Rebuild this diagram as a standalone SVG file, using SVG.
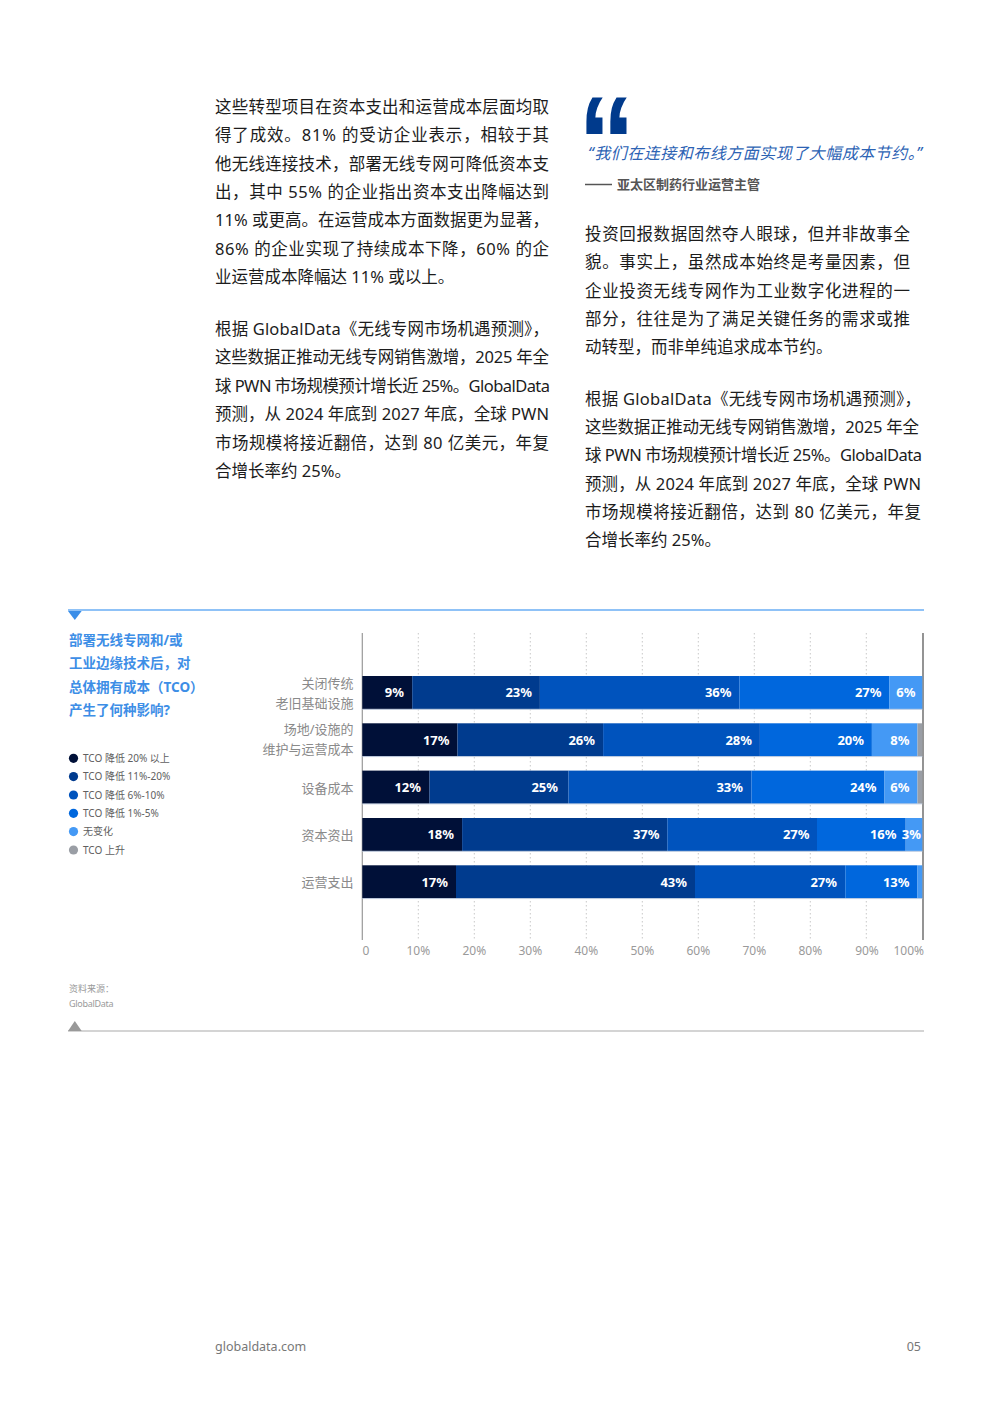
<svg xmlns="http://www.w3.org/2000/svg" width="992" height="1403" viewBox="0 0 992 1403">
<style>
  .body { font-family: "Noto Sans", "Noto Sans CJK SC", sans-serif; font-size: 16.5px; fill: #1c1c1c; }
  .cat { font-family: "Noto Sans", "Noto Sans CJK SC", sans-serif; font-size: 13px; fill: #8a8a8a; text-anchor: end; }
  .ttl { font-family: "Noto Sans", "Noto Sans CJK SC", sans-serif; font-size: 13.5px; font-weight: bold; fill: #3d8ee6; }
  .leg { font-family: "Noto Sans", "Noto Sans CJK SC", sans-serif; font-size: 10px; fill: #606060; }
  .val { font-family: "Noto Sans", "Noto Sans CJK SC", sans-serif; font-size: 13px; font-weight: bold; fill: #ffffff; text-anchor: end; }
  .ax { font-family: "Noto Sans", sans-serif; font-size: 12px; fill: #9a9a9a; text-anchor: middle; }
  .grid { stroke: #c8c8c8; stroke-width: 1; stroke-dasharray: 1.5 2.5; }
  .c1 { fill: #001038; } .c2 { fill: #003b8e; } .c3 { fill: #0053bd; }
  .c4 { fill: #0067dd; } .c5 { fill: #4499f5; } .c6 { fill: #9a9ea5; }
  .edge { stroke: #c4d0e2; stroke-width: 1; }
</style>

<g id="left-text">
  <text class="body" x="215" y="113" textLength="334" lengthAdjust="spacing">这些转型项目在资本支出和运营成本层面均取</text>
  <text class="body" x="215" y="141.3" textLength="334" lengthAdjust="spacing">得了成效。81% 的受访企业表示，相较于其</text>
  <text class="body" x="215" y="169.7" textLength="334" lengthAdjust="spacing">他无线连接技术，部署无线专网可降低资本支</text>
  <text class="body" x="215" y="198" textLength="334" lengthAdjust="spacing">出，其中 55% 的企业指出资本支出降幅达到</text>
  <text class="body" x="215" y="226.3" textLength="334" lengthAdjust="spacing">11% 或更高。在运营成本方面数据更为显著，</text>
  <text class="body" x="215" y="254.7" textLength="334" lengthAdjust="spacing">86% 的企业实现了持续成本下降，60% 的企</text>
  <text class="body" x="215" y="283">业运营成本降幅达 11% 或以上。</text>

  <text class="body" x="215" y="335" textLength="334" lengthAdjust="spacing">根据 GlobalData《无线专网市场机遇预测》，</text>
  <text class="body" x="215" y="363.4" textLength="334" lengthAdjust="spacing">这些数据正推动无线专网销售激增，2025 年全</text>
  <text class="body" x="215" y="391.8" textLength="335" lengthAdjust="spacing">球 PWN 市场规模预计增长近 25%。GlobalData</text>
  <text class="body" x="215" y="420.2" textLength="334" lengthAdjust="spacing">预测，从 2024 年底到 2027 年底，全球 PWN</text>
  <text class="body" x="215" y="448.6" textLength="334" lengthAdjust="spacing">市场规模将接近翻倍，达到 80 亿美元，年复</text>
  <text class="body" x="215" y="477">合增长率约 25%。</text>
</g>

<g id="quote">
  <text x="0" y="0" transform="translate(578,187) scale(0.88,1)" style="font-family: 'Liberation Sans', Arial, sans-serif; font-weight: bold; font-size: 130px; fill: #003a8c;">“</text>
  <text x="588" y="159" textLength="334" lengthAdjust="spacing" style="font-family: 'Noto Sans', 'Noto Sans CJK SC', sans-serif; font-size: 16px; font-style: italic; fill: #2d63b4;">“我们在连接和布线方面实现了大幅成本节约。”</text>
  <line x1="585" y1="184.5" x2="612" y2="184.5" stroke="#555555" stroke-width="1.5"/>
  <text x="617" y="189" style="font-family: 'Noto Sans', 'Noto Sans CJK SC', sans-serif; font-size: 13px; font-weight: bold; fill: #555555;">亚太区制药行业运营主管</text>
</g>

<g id="right-text">
  <text class="body" x="585" y="240" textLength="325" lengthAdjust="spacing">投资回报数据固然夺人眼球，但并非故事全</text>
  <text class="body" x="585" y="268.3" textLength="325" lengthAdjust="spacing">貌。事实上，虽然成本始终是考量因素，但</text>
  <text class="body" x="585" y="296.7" textLength="325" lengthAdjust="spacing">企业投资无线专网作为工业数字化进程的一</text>
  <text class="body" x="585" y="325" textLength="325" lengthAdjust="spacing">部分，往往是为了满足关键任务的需求或推</text>
  <text class="body" x="585" y="353.3">动转型，而非单纯追求成本节约。</text>

  <text class="body" x="585" y="404.5" textLength="336" lengthAdjust="spacing">根据 GlobalData《无线专网市场机遇预测》，</text>
  <text class="body" x="585" y="432.8" textLength="334" lengthAdjust="spacing">这些数据正推动无线专网销售激增，2025 年全</text>
  <text class="body" x="585" y="461.2" textLength="337" lengthAdjust="spacing">球 PWN 市场规模预计增长近 25%。GlobalData</text>
  <text class="body" x="585" y="489.5" textLength="336" lengthAdjust="spacing">预测，从 2024 年底到 2027 年底，全球 PWN</text>
  <text class="body" x="585" y="517.8" textLength="336" lengthAdjust="spacing">市场规模将接近翻倍，达到 80 亿美元，年复</text>
  <text class="body" x="585" y="546.2">合增长率约 25%。</text>
</g>

<g id="chart-frame">
  <line x1="68" y1="610" x2="924" y2="610" stroke="#6aaef5" stroke-width="1.5"/>
  <polygon points="68,611 81.7,611 74.8,620" fill="#3a8ee8"/>
  <line x1="68" y1="1031" x2="924" y2="1031" stroke="#aaaaaa" stroke-width="1.2"/>
  <polygon points="68,1031 81.7,1031 74.8,1021" fill="#999999"/>
</g>

<g id="chart-title">
  <text class="ttl" x="69" y="645">部署无线专网和/或</text>
  <text class="ttl" x="69" y="668.3">工业边缘技术后，对</text>
  <text class="ttl" x="69" y="692">总体拥有成本（TCO）</text>
  <text class="ttl" x="69" y="715">产生了何种影响?</text>
</g>

<g id="legend">
  <circle cx="73.5" cy="758.3" r="4.6" class="c1"/>
  <text class="leg" x="83" y="761.8">TCO 降低 20% 以上</text>
  <circle cx="73.5" cy="776.6" r="4.6" class="c2"/>
  <text class="leg" x="83" y="780.1">TCO 降低 11%-20%</text>
  <circle cx="73.5" cy="795" r="4.6" class="c3"/>
  <text class="leg" x="83" y="798.5">TCO 降低 6%-10%</text>
  <circle cx="73.5" cy="813.3" r="4.6" class="c4"/>
  <text class="leg" x="83" y="816.8">TCO 降低 1%-5%</text>
  <circle cx="73.5" cy="831.6" r="4.6" class="c5"/>
  <text class="leg" x="83" y="835.1">无变化</text>
  <circle cx="73.5" cy="850" r="4.6" class="c6"/>
  <text class="leg" x="83" y="853.5">TCO 上升</text>
</g>

<g id="categories">
  <text class="cat" x="353.5" y="687.5">关闭传统</text>
  <text class="cat" x="353.5" y="707.5">老旧基础设施</text>
  <text class="cat" x="353.5" y="734">场地/设施的</text>
  <text class="cat" x="353.5" y="754">维护与运营成本</text>
  <text class="cat" x="353.5" y="792.5">设备成本</text>
  <text class="cat" x="353.5" y="839.5">资本资出</text>
  <text class="cat" x="353.5" y="886.5">运营支出</text>
</g>

<g id="grid">
  <line class="grid" x1="418.3" y1="633" x2="418.3" y2="940"/>
  <line class="grid" x1="474.3" y1="633" x2="474.3" y2="940"/>
  <line class="grid" x1="530.3" y1="633" x2="530.3" y2="940"/>
  <line class="grid" x1="586.3" y1="633" x2="586.3" y2="940"/>
  <line class="grid" x1="642.3" y1="633" x2="642.3" y2="940"/>
  <line class="grid" x1="698.3" y1="633" x2="698.3" y2="940"/>
  <line class="grid" x1="754.3" y1="633" x2="754.3" y2="940"/>
  <line class="grid" x1="810.3" y1="633" x2="810.3" y2="940"/>
  <line class="grid" x1="866.3" y1="633" x2="866.3" y2="940"/>
  <line x1="362.3" y1="633" x2="362.3" y2="940" stroke="#999999" stroke-width="1.2"/>
  <line x1="923" y1="633" x2="923" y2="940" stroke="#666666" stroke-width="1.4"/>
</g>

<g id="bar-1">
  <rect class="c1" x="362.3" y="676" width="49.9" height="33.3"/>
  <rect class="c2" x="412.2" y="676" width="127.7" height="33.3"/>
  <rect class="c3" x="539.9" y="676" width="199.6" height="33.3"/>
  <rect class="c4" x="739.5" y="676" width="149.7" height="33.3"/>
  <rect class="c5" x="889.2" y="676" width="33.1" height="33.3"/>
  <line class="edge" x1="362.3" y1="709.3" x2="922.3" y2="709.3"/>
  <text class="val" x="404" y="697.3">9%</text>
  <text class="val" x="532" y="697.3">23%</text>
  <text class="val" x="731.5" y="697.3">36%</text>
  <text class="val" x="881.5" y="697.3">27%</text>
  <text class="val" x="915.5" y="697.3">6%</text>
</g>

<g id="bar-2">
  <rect class="c1" x="362.3" y="723.3" width="95.2" height="33.3"/>
  <rect class="c2" x="457.5" y="723.3" width="145.6" height="33.3"/>
  <rect class="c3" x="603.1" y="723.3" width="156.8" height="33.3"/>
  <rect class="c4" x="759.9" y="723.3" width="112" height="33.3"/>
  <rect class="c5" x="871.9" y="723.3" width="45.6" height="33.3"/>
  <rect class="c6" x="917.5" y="723.3" width="4.8" height="33.3"/>
  <line class="edge" x1="362.3" y1="756.6" x2="922.3" y2="756.6"/>
  <text class="val" x="449.5" y="744.6">17%</text>
  <text class="val" x="595" y="744.6">26%</text>
  <text class="val" x="752" y="744.6">28%</text>
  <text class="val" x="864" y="744.6">20%</text>
  <text class="val" x="909.5" y="744.6">8%</text>
</g>

<g id="bar-3">
  <rect class="c1" x="362.3" y="770.6" width="67.2" height="33.3"/>
  <rect class="c2" x="429.5" y="770.6" width="139" height="33.3"/>
  <rect class="c3" x="568.5" y="770.6" width="183" height="33.3"/>
  <rect class="c4" x="751.5" y="770.6" width="133" height="33.3"/>
  <rect class="c5" x="884.5" y="770.6" width="33" height="33.3"/>
  <rect class="c6" x="917.5" y="770.6" width="4.8" height="33.3"/>
  <line class="edge" x1="362.3" y1="803.9" x2="922.3" y2="803.9"/>
  <text class="val" x="421" y="791.9">12%</text>
  <text class="val" x="558" y="791.9">25%</text>
  <text class="val" x="743" y="791.9">33%</text>
  <text class="val" x="876.5" y="791.9">24%</text>
  <text class="val" x="909.5" y="791.9">6%</text>
</g>

<g id="bar-4">
  <rect class="c1" x="362.3" y="818" width="99.8" height="33.3"/>
  <rect class="c2" x="462.1" y="818" width="205.2" height="33.3"/>
  <rect class="c3" x="667.3" y="818" width="149.7" height="33.3"/>
  <rect class="c4" x="817" y="818" width="88.7" height="33.3"/>
  <rect class="c5" x="905.7" y="818" width="16.6" height="33.3"/>
  <line class="edge" x1="362.3" y1="851.3" x2="922.3" y2="851.3"/>
  <text class="val" x="454" y="839.3">18%</text>
  <text class="val" x="659.5" y="839.3">37%</text>
  <text class="val" x="809.5" y="839.3">27%</text>
  <text class="val" x="896.5" y="839.3">16%</text>
  <text class="val" x="921" y="839.3">3%</text>
</g>

<g id="bar-5">
  <rect class="c1" x="362.3" y="865.3" width="93.7" height="33.3"/>
  <rect class="c2" x="456" y="865.3" width="239" height="33.3"/>
  <rect class="c3" x="695" y="865.3" width="150.3" height="33.3"/>
  <rect class="c4" x="845.3" y="865.3" width="72.2" height="33.3"/>
  <rect class="c5" x="917.5" y="865.3" width="4.8" height="33.3"/>
  <line class="edge" x1="362.3" y1="898.6" x2="922.3" y2="898.6"/>
  <text class="val" x="448" y="886.6">17%</text>
  <text class="val" x="687" y="886.6">43%</text>
  <text class="val" x="837" y="886.6">27%</text>
  <text class="val" x="909.5" y="886.6">13%</text>
</g>

<g id="axis-labels">
  <text class="ax" x="362.5" y="955" style="text-anchor: start;">0</text>
  <text class="ax" x="418.3" y="955">10%</text>
  <text class="ax" x="474.3" y="955">20%</text>
  <text class="ax" x="530.3" y="955">30%</text>
  <text class="ax" x="586.3" y="955">40%</text>
  <text class="ax" x="642.3" y="955">50%</text>
  <text class="ax" x="698.3" y="955">60%</text>
  <text class="ax" x="754.3" y="955">70%</text>
  <text class="ax" x="810.3" y="955">80%</text>
  <text class="ax" x="867" y="955">90%</text>
  <text class="ax" x="924" y="955" style="text-anchor: end;">100%</text>
</g>

<g id="source">
  <text x="69" y="992" style="font-family: 'Noto Sans', 'Noto Sans CJK SC', sans-serif; font-size: 9px; fill: #9a9a9a;">资料来源：</text>
  <text x="69" y="1007" style="font-family: 'Noto Sans', sans-serif; font-size: 9px; fill: #9a9a9a; letter-spacing: -0.3px;">GlobalData</text>
</g>

<g id="footer">
  <text x="215" y="1350.5" style="font-family: 'Noto Sans', sans-serif; font-size: 12.5px; fill: #777777;">globaldata.com</text>
  <text x="921" y="1350.5" style="font-family: 'Noto Sans', sans-serif; font-size: 12.5px; fill: #777777; text-anchor: end;">05</text>
</g>
</svg>
